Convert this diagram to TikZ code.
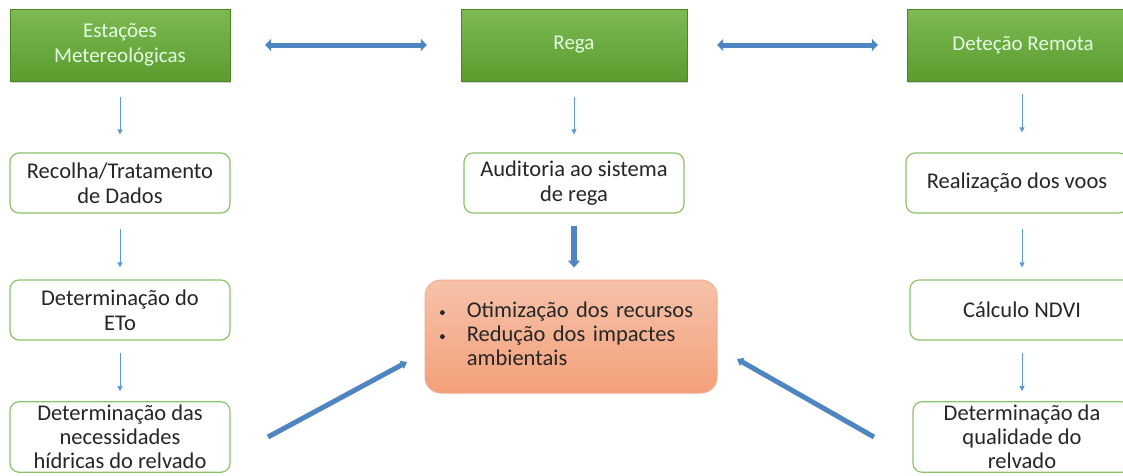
\documentclass[tikz,border=0pt]{standalone}
\usepackage{fontspec}
\setmainfont{Carlito}
\usetikzlibrary{arrows.meta,shadows}
\definecolor{gtop}{HTML}{7DBA52}
\definecolor{gbot}{HTML}{5A9C2E}
\definecolor{gborder}{HTML}{8DC26A}
\definecolor{otop}{HTML}{F6C2AA}
\definecolor{obot}{HTML}{F3A07A}
\definecolor{oborder}{HTML}{F4AE8E}
\definecolor{blueA}{HTML}{5B9BD5}
\definecolor{blueB}{HTML}{4F86C2}
\definecolor{txt}{HTML}{262626}
\tikzset{
  hdr/.style={minimum width=220pt, minimum height=72pt, top color=gtop, bottom color=gbot,
    draw=gbot!85!black, line width=0.3pt, text=white!90!green, align=center,
    font=\fontsize{21}{25}\selectfont,
    drop shadow={shadow xshift=1pt, shadow yshift=-2pt, opacity=0.35}},
  wbox/.style={draw=gborder, line width=1.2pt, rounded corners=9pt, fill=white,
    minimum width=220pt, minimum height=60pt, align=center, text=txt,
    font=\fontsize{22.5}{25}\selectfont},
  obox/.style={draw=oborder, line width=1pt, rounded corners=16pt, top color=otop, bottom color=obot,
    minimum width=292pt, minimum height=113pt, text=txt, font=\fontsize{22.5}{25}\selectfont,
    text width=262pt, inner xsep=15pt, align=left},
  thinarrow/.style={draw=blueA, line width=0.8pt, -{Triangle[width=5pt,length=5pt]}},
  bigarrow/.style={draw=blueB, line width=5.5pt, -{Triangle[width=12pt,length=7pt]}},
  dblarrow/.style={draw=blueB, line width=5pt, {Triangle[width=12pt,length=6pt]}-{Triangle[width=12pt,length=6pt]}},
}
\newcommand{\smallbul}{\raisebox{2.5pt}{\tikz\fill[txt] (0,0) circle (2.4pt);}}
\begin{document}
\begin{tikzpicture}[x=1pt,y=-1pt]
\useasboundingbox (0,0) rectangle (1123,475);
\clip (0,0) rectangle (1123,475);
% headers
\node[hdr] (est) at (120,45) {Estações\\Metereológicas};
\node[hdr, minimum width=226pt] (rega) at (574,45) {Rega};
\node[hdr, minimum width=232pt] (det) at (1023,45) {Deteção Remota};
% row 2
\node[wbox] (rec) at (120,183) {Recolha/Tratamento\\de Dados};
\node[wbox] (aud) at (574,183) {Auditoria ao sistema\\de rega};
\node[wbox, minimum width=222pt] (voo) at (1017,183) {Realização dos voos};
% row 3
\node[wbox] (eto) at (120,310) {Determinação do\\ETo};
\node[obox] (res) at (571,336.5) {\begin{tabular}{@{}l@{\hspace{22pt}}l@{}}\smallbul & Otimização dos recursos\\[-1pt] \smallbul & Redução dos impactes\\[-1pt] & ambientais\end{tabular}};
\node[wbox, minimum width=224pt] (ndvi) at (1022,310) {Cálculo NDVI};
% row 4
\node[wbox, minimum height=70pt, font=\fontsize{22.5}{24}\selectfont] (nec) at (120,437) {Determinação das\\necessidades\\hídricas do relvado};
\node[wbox, minimum width=218pt, minimum height=70pt, font=\fontsize{22.5}{24}\selectfont] (qual) at (1022,437) {Determinação da\\qualidade do\\relvado};
% double arrows
\draw[dblarrow, shorten <=35pt, shorten >=34pt] (est.east) -- (rega.west);
\draw[dblarrow, shorten <=30pt, shorten >=29pt] (rega.east) -- (det.west);
% thin arrows
\draw[thinarrow, shorten <=16pt, shorten >=18pt] (est.south) -- (rec.north);
\draw[thinarrow, shorten <=16pt, shorten >=18pt] (rega.south) -- (aud.north);
\draw[thinarrow, shorten <=13pt, shorten >=20pt] (det.south -| ndvi.center) -- (voo.north -| ndvi.center);
\draw[thinarrow, shorten <=15pt, shorten >=12pt] (rec.south) -- (eto.north);
\draw[thinarrow, shorten <=15pt, shorten >=12pt] (voo.south -| ndvi.center) -- (ndvi.north);
\draw[thinarrow, shorten <=12pt, shorten >=10pt] (eto.south) -- (nec.north);
\draw[thinarrow, shorten <=12pt, shorten >=10pt] (ndvi.south) -- (qual.north -| ndvi.center);
% thick arrows
\draw[bigarrow, shorten <=12pt, shorten >=12pt] (aud.south) -- (aud.south |- res.north);
\coordinate (lt) at (268,437);
\coordinate (lh) at (407,362);
\coordinate (rt) at (874,437);
\coordinate (rh) at (737,359);
\draw[bigarrow, line width=5pt, -{Triangle[width=9pt,length=6pt]}] (lt) -- (lh);
\draw[bigarrow, line width=5pt, -{Triangle[width=9pt,length=6pt]}] (rt) -- (rh);
\end{tikzpicture}
\end{document}
